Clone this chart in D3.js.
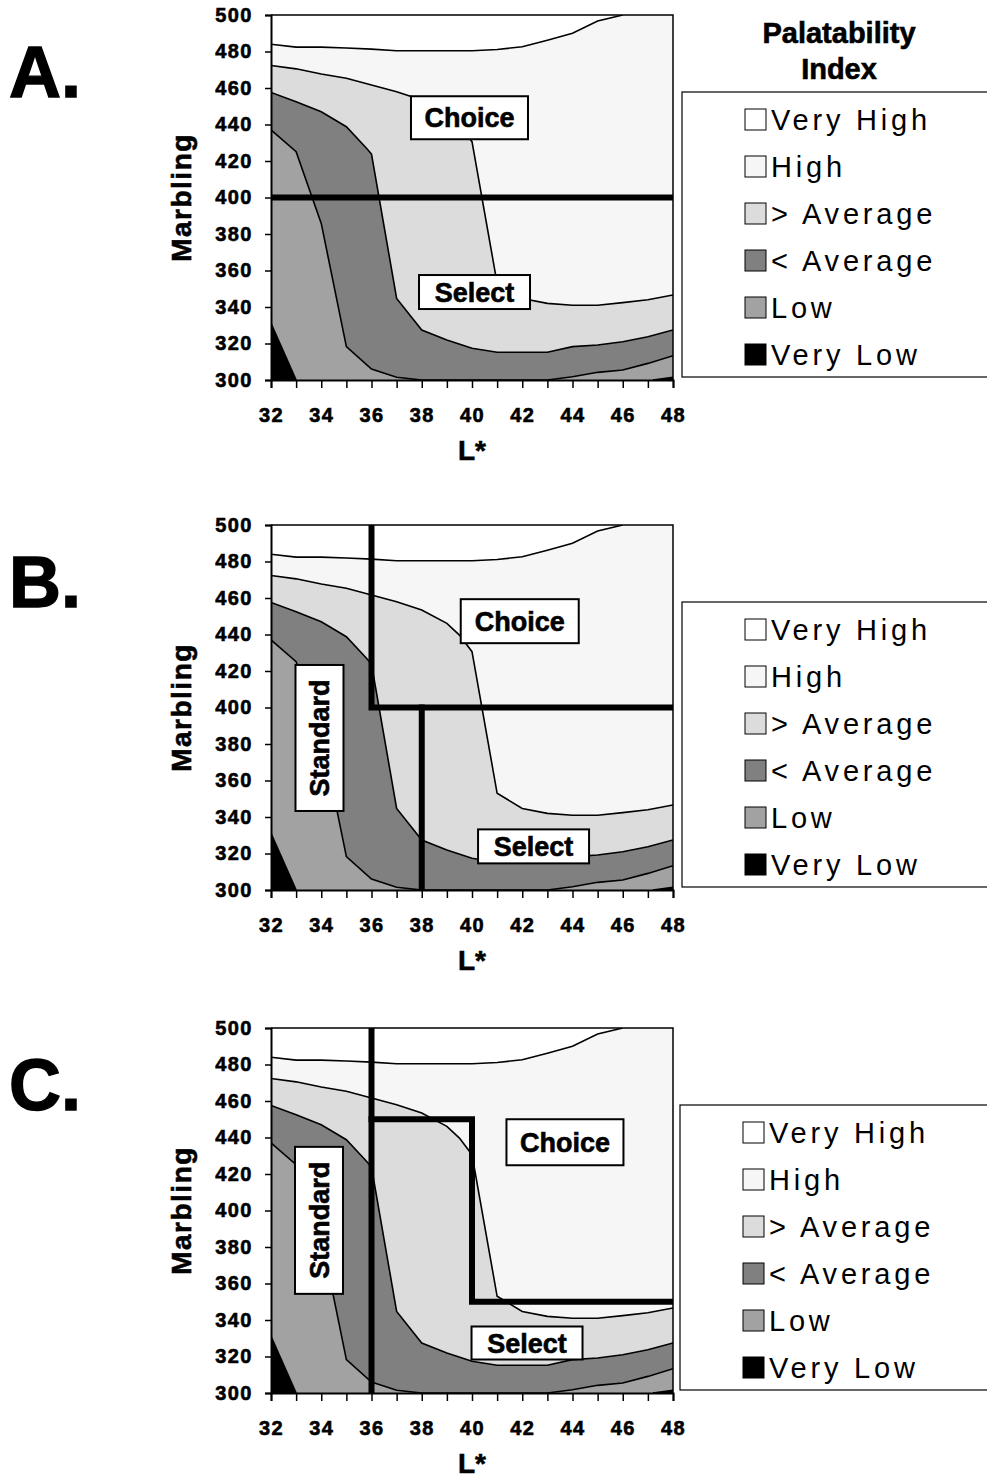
<!DOCTYPE html>
<html>
<head>
<meta charset="utf-8">
<script src="https://cdn.jsdelivr.net/npm/d3@7"></script>
<style>
  body { margin: 0; background: #fff; }
  text { font-family: "Liberation Sans", Arial, sans-serif; }
  .heavy { stroke: #000; stroke-width: 0.6px; }
</style>
</head>
<body>
<svg id="chart" width="987" height="1479"></svg>
<script>
// Palatability index levels (legend order)
const levelNames = ["Very High", "High", "> Average", "< Average", "Low", "Very Low"];
const levelFills = ["#ffffff", "#f6f6f6", "#dcdcdc", "#808080", "#a2a2a2", "#000000"];

// axis ticks
const lTicks = d3.range(32, 49);
const marblingTicks = d3.range(300, 501, 20);

// contour boundaries, [L*, Marbling]
const edgeVeryHighHigh = [[32, 484], [33, 482.4], [34, 482.4], [35, 481.9], [36, 481.3], [37, 480.4],
  [38, 480.4], [39, 480.4], [40, 480.4], [41, 481.1], [42, 482.6], [43, 486.2], [44, 490],
  [45, 496.7], [46, 500]];
const edgeHighAbove = [[32, 472.3], [33, 470.5], [34, 467.7], [35, 465.3], [36, 461.6], [37, 458],
  [38, 453.4], [39, 446.1], [39.5, 439.7], [40, 430.6], [41, 353], [42, 344.7], [43, 342],
  [44, 341], [45, 341], [46, 342.4], [47, 344], [48, 346.6]];
const edgeAboveBelow = [[32, 457.6], [33, 452.5], [34, 447], [35, 438.8], [35.8, 427], [36, 423.8],
  [37, 344.7], [38, 327.4], [39, 321.9], [40, 317.4], [41, 315.2], [42, 315.2], [43, 315.2],
  [44, 318.3], [45, 319.2], [46, 321], [47, 323.7], [48, 327.4]];
const edgeBelowLow = [[32, 437], [33, 425.1], [34, 385.8], [35, 318.3], [36, 306], [37, 301.5],
  [38, 300], [43, 300], [44, 301.8], [45, 304.2], [46, 305.5], [47, 309.1], [48, 313.3]];
const edgeVeryLowLeft = [[32, 331], [33, 300]];
const edgeVeryLowRight = [[47.2, 300], [48, 301.5]];

// grade cut-off lines for each panel
const cutsA = [[[32, 400], [48, 400]]];
const cutsB = [[[36, 500], [36, 400], [48, 400]], [[38, 400], [38, 300]]];
const cutsC = [[[36, 500], [36, 300]], [[36, 450], [40, 450], [40, 350], [48, 350]]];

// grade labels: centre in data units, box size in px
const labelsA = [
  { text: "Choice", at: [39.9, 443.7], w: 117, h: 43 },
  { text: "Select", at: [40.1, 348.2], w: 111, h: 34 }
];
const labelsB = [
  { text: "Choice", at: [41.9, 447.3], w: 118, h: 44 },
  { text: "Select", at: [42.45, 323.9], w: 111, h: 34 },
  { text: "Standard", at: [33.93, 383.3], w: 48, h: 146, rotate: true }
];
const labelsC = [
  { text: "Choice", at: [43.7, 437.4], w: 117, h: 46 },
  { text: "Select", at: [42.19, 327.4], w: 111, h: 33 },
  { text: "Standard", at: [33.91, 394.6], w: 48, h: 147, rotate: true }
];

const panels = [
  { letter: "A.", top: 15, cuts: cutsA, labels: labelsA, title: true, legendX: 682 },
  { letter: "B.", top: 525, cuts: cutsB, labels: labelsB, title: false, legendX: 682 },
  { letter: "C.", top: 1028, cuts: cutsC, labels: labelsC, title: false, legendX: 680 }
];

const svg = d3.select("#chart");
const plotLeft = 271, plotW = 402, plotH = 365;

const x = d3.scaleLinear().domain([32, 48]).range([0, plotW]);
const y = d3.scaleLinear().domain([300, 500]).range([plotH, 0]);
const line = d3.line().x(d => x(d[0])).y(d => y(d[1]));

// close a boundary downward into a filled region
function regionBelow(edge) {
  const pts = edge.slice();
  const first = pts[0], last = pts[pts.length - 1];
  let toRight = last[0] === 48;
  if (last[1] === 500 && last[0] < 48) { pts.push([48, 500]); toRight = true; }
  if (toRight) pts.push([48, 300]);
  if (first[0] === 32) pts.push([32, 300]);
  return pts;
}

const regions = [
  { edge: edgeVeryHighHigh, level: 1 },
  { edge: edgeHighAbove, level: 2 },
  { edge: edgeAboveBelow, level: 3 },
  { edge: edgeBelowLow, level: 4 },
  { edge: edgeVeryLowLeft, level: 5 },
  { edge: edgeVeryLowRight, level: 5 }
];

svg.append("defs").append("clipPath").attr("id", "plotClip")
  .append("rect").attr("width", plotW).attr("height", plotH);

panels.forEach((p, pi) => {
  const offset = p.top - 15;

  // panel letter
  svg.append("text")
    .attr("class", "heavy")
    .attr("x", 9).attr("y", 97 + offset)
    .attr("font-size", 72).attr("font-weight", "bold")
    .style("stroke-width", "1.4px")
    .text(p.letter);

  const g = svg.append("g").attr("transform", `translate(${plotLeft},${p.top})`);
  const plot = g.append("g").attr("clip-path", "url(#plotClip)");

  plot.append("rect").attr("width", plotW).attr("height", plotH).attr("fill", levelFills[0]);

  plot.selectAll("path.region")
    .data(regions)
    .join("path")
    .attr("class", "region")
    .attr("d", d => line(regionBelow(d.edge)) + "Z")
    .attr("fill", d => levelFills[d.level]);

  plot.selectAll("path.edge")
    .data(regions)
    .join("path")
    .attr("class", "edge")
    .attr("d", d => line(d.edge))
    .attr("fill", "none")
    .attr("stroke", "#000")
    .attr("stroke-width", 1.6);

  // grade cut-offs
  plot.selectAll("path.cut")
    .data(p.cuts)
    .join("path")
    .attr("class", "cut")
    .attr("d", line)
    .attr("fill", "none")
    .attr("stroke", "#000")
    .attr("stroke-width", 6)
    .attr("stroke-linecap", "square");

  // frame on top and right
  g.append("path")
    .attr("d", `M0,0H${plotW}V${plotH}`)
    .attr("fill", "none").attr("stroke", "#000").attr("stroke-width", 1.5);

  // axes
  const yAxis = g.append("g")
    .call(d3.axisLeft(y).tickValues(marblingTicks).tickSize(6).tickPadding(12));
  const xAxis = g.append("g")
    .attr("transform", `translate(0,${plotH})`)
    .call(d3.axisBottom(x).tickValues(lTicks).tickSize(8).tickPadding(20)
      .tickFormat(d => d % 2 === 0 ? d : ""));
  [yAxis, xAxis].forEach(a => {
    a.select(".domain").attr("stroke", "#000").attr("stroke-width", 2);
    a.selectAll(".tick line").attr("stroke", "#000").attr("stroke-width", 1.5);
    a.selectAll(".tick text")
      .attr("class", "heavy")
      .attr("fill", "#000")
      .attr("font-family", "'Liberation Sans', Arial, sans-serif")
      .attr("font-weight", "bold")
      .attr("font-size", 20)
      .attr("letter-spacing", "1.5px");
  });

  g.append("text")
    .attr("class", "heavy")
    .attr("x", plotW / 2).attr("y", 445)
    .attr("text-anchor", "middle")
    .attr("font-size", 28).attr("font-weight", "bold")
    .text("L*");

  g.append("text")
    .attr("class", "heavy")
    .attr("transform", `translate(${-80},${plotH / 2}) rotate(-90)`)
    .attr("text-anchor", "middle")
    .attr("font-size", 28).attr("font-weight", "bold")
    .attr("letter-spacing", "1.5px")
    .text("Marbling");

  // grade labels
  const lab = g.selectAll("g.grade")
    .data(p.labels)
    .join("g")
    .attr("class", "grade")
    .attr("transform", d => `translate(${x(d.at[0])},${y(d.at[1])})`);
  lab.append("rect")
    .attr("x", d => -d.w / 2).attr("y", d => -d.h / 2)
    .attr("width", d => d.w).attr("height", d => d.h)
    .attr("fill", "#fff").attr("stroke", "#000").attr("stroke-width", 2);
  lab.append("text")
    .attr("class", "heavy")
    .attr("transform", d => d.rotate ? "rotate(-90)" : null)
    .attr("text-anchor", "middle")
    .attr("dy", "0.36em")
    .attr("font-size", 27).attr("font-weight", "bold")
    .text(d => d.text);

  // legend
  if (p.title) {
    svg.append("text")
      .attr("class", "heavy")
      .attr("x", 839).attr("y", 43)
      .attr("text-anchor", "middle")
      .attr("font-size", 29).attr("font-weight", "bold")
      .text("Palatability");
    svg.append("text")
      .attr("class", "heavy")
      .attr("x", 839).attr("y", 79)
      .attr("text-anchor", "middle")
      .attr("font-size", 29).attr("font-weight", "bold")
      .text("Index");
  }
  const lg = svg.append("g").attr("transform", `translate(${p.legendX},${92 + offset})`);
  lg.append("rect")
    .attr("width", 330).attr("height", 285)
    .attr("fill", "#fff").attr("stroke", "#000").attr("stroke-width", 1.2);
  const item = lg.selectAll("g.item")
    .data(levelNames)
    .join("g")
    .attr("class", "item")
    .attr("transform", (d, i) => `translate(0,${27 + i * 47})`);
  item.append("rect")
    .attr("x", 63).attr("y", -10)
    .attr("width", 21).attr("height", 21)
    .attr("fill", (d, i) => levelFills[i])
    .attr("stroke", "#000").attr("stroke-width", 1);
  item.append("text")
    .attr("x", 89).attr("y", 10.5)
    .attr("font-size", 29)
    .attr("letter-spacing", "3.8px")
    .text(d => d);
});
</script>
</body>
</html>
